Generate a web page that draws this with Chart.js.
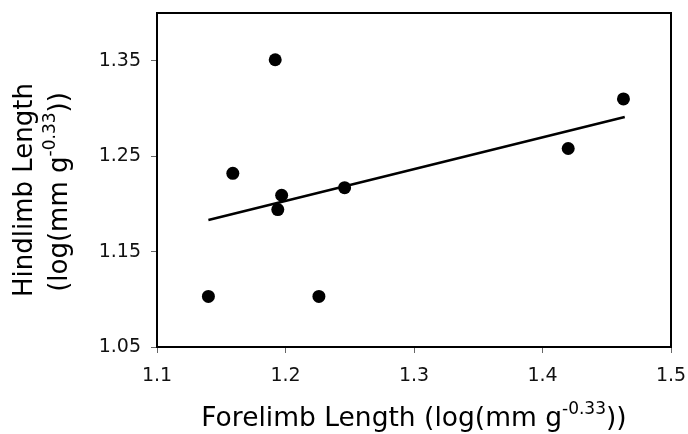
<!DOCTYPE html>
<html>
<head>
<meta charset="utf-8">
<script src="https://cdn.jsdelivr.net/npm/chart.js@4/dist/chart.umd.min.js"></script>
<style>
  body { margin: 0; background: #fff; }
  #wrap { width: 688px; height: 434px; }
</style>
</head>
<body>
<div id="wrap"><canvas id="limb-chart" width="688" height="434"></canvas></div>
<script>
// data
const forelimb = [1.140, 1.159, 1.192, 1.194, 1.197, 1.226, 1.246, 1.420, 1.463];
const hindlimb = [1.103, 1.232, 1.351, 1.194, 1.209, 1.103, 1.217, 1.258, 1.310];
const trendX = [1.140, 1.464];
const trendY = [1.183, 1.291];
const xTicks = [1.1, 1.2, 1.3, 1.4, 1.5];
const yTicks = [1.05, 1.15, 1.25, 1.35];

const FONT = '"DejaVu Sans", Verdana, sans-serif';

// draws a title with a superscript part: [text, sup, text]
function supText(ctx, parts, size, cx, cy) {
    const supSize = Math.round(size * 0.64);
    ctx.font = size + 'px ' + FONT;
    const w0 = ctx.measureText(parts[0]).width;
    const w2 = ctx.measureText(parts[2]).width;
    ctx.font = supSize + 'px ' + FONT;
    const w1 = ctx.measureText(parts[1]).width;
    let x = cx - (w0 + w1 + w2) / 2;
    ctx.textBaseline = 'middle';
    ctx.textAlign = 'left';
    ctx.font = size + 'px ' + FONT;
    ctx.fillText(parts[0], x, cy);
    x += w0;
    ctx.font = supSize + 'px ' + FONT;
    ctx.fillText(parts[1], x, cy - size * 0.36);
    x += w1;
    ctx.font = size + 'px ' + FONT;
    ctx.fillText(parts[2], x, cy);
}

const frameAndTitles = {
    id: 'frameAndTitles',
    afterDraw(chart) {
        const ctx = chart.ctx
        const a = chart.chartArea
        ctx.save()
        ctx.strokeStyle = '#000'
        ctx.lineWidth = 2
        ctx.strokeRect(a.left, a.top, a.right - a.left, a.bottom - a.top)
        ctx.fillStyle = '#000'
        supText(ctx, ['Forelimb Length (log(mm g', '-0.33', '))'], 26.5, (a.left + a.right) / 2, 419)
        ctx.translate(25, 190)
        ctx.rotate(-Math.PI / 2)
        ctx.font = '26px ' + FONT
        ctx.textAlign = 'center'
        ctx.textBaseline = 'middle'
        ctx.fillText('Hindlimb Length', 0, 0)
        ctx.restore()
        ctx.save()
        ctx.fillStyle = '#000'
        ctx.translate(60, 192)
        ctx.rotate(-Math.PI / 2)
        supText(ctx, ['(log(mm g', '-0.33', '))'], 26, 0, 0)
        ctx.restore()
    }
}

const limbChart = new Chart(document.getElementById('limb-chart'), {
    type: 'scatter',
    data: {
        datasets: [{
            data: forelimb.map((x, i) => ({ x: x, y: hindlimb[i] })),
            backgroundColor: '#000',
            borderWidth: 0,
            pointRadius: 6.5,
            pointHoverRadius: 6.5
        }, {
            type: 'line',
            data: trendX.map((x, i) => ({ x: x, y: trendY[i] })),
            borderColor: '#000',
            borderWidth: 2.5,
            pointRadius: 0,
            fill: false
        }]
    },
    options: {
        responsive: false,
        animation: false,
        layout: { padding: { left: 0, top: 13, right: 17, bottom: 0 } },
        plugins: {
            legend: { display: false },
            tooltip: { enabled: false }
        },
        scales: {
            x: {
                type: 'linear',
                min: 1.1,
                max: 1.5,
                afterBuildTicks: s => { s.ticks = xTicks.map(v => ({ value: v })) },
                afterFit: s => { s.height = 87; s.paddingLeft = 0; s.paddingRight = 0 },
                grid: { drawOnChartArea: false, tickLength: 6, color: '#666' },
                border: { display: false },
                ticks: {
                    padding: 12,
                    color: '#111',
                    font: { family: FONT, size: 19 },
                    callback: v => v.toFixed(1)
                }
            },
            y: {
                min: 1.05,
                max: 1.40,
                afterBuildTicks: s => { s.ticks = yTicks.map(v => ({ value: v })) },
                afterFit: s => { s.width = 157; s.paddingTop = 0; s.paddingBottom = 0 },
                grid: { drawOnChartArea: false, tickLength: 6, color: '#666' },
                border: { display: false },
                ticks: {
                    padding: 10,
                    color: '#111',
                    font: { family: FONT, size: 19 },
                    callback: v => v.toFixed(2)
                }
            }
        }
    },
    plugins: [frameAndTitles]
})
</script>
</body>
</html>
